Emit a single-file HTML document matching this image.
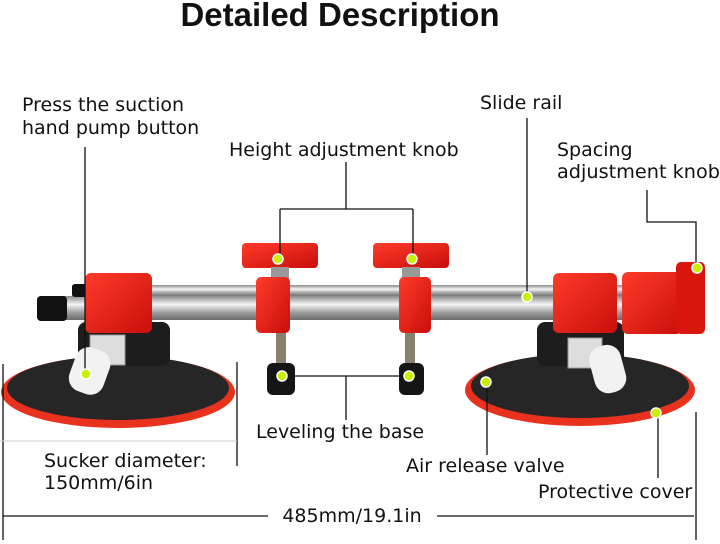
<!DOCTYPE html>
<html><head><meta charset="utf-8"><style>
html,body{margin:0;padding:0;background:#fff;width:720px;height:544px;overflow:hidden}
svg{display:block}
text{font-family:"DejaVu Sans","Liberation Sans",sans-serif;fill:#111}
</style></head><body>
<svg width="720" height="544" viewBox="0 0 720 544" xmlns="http://www.w3.org/2000/svg">
<defs>
<linearGradient id="rod" x1="0" y1="0" x2="0" y2="1"><stop offset="0" stop-color="#8a8a8a"/><stop offset="0.35" stop-color="#f4f4f4"/><stop offset="0.7" stop-color="#9a9a9a"/><stop offset="1" stop-color="#6a6a6a"/></linearGradient>
<linearGradient id="red" x1="0" y1="0" x2="1" y2="1"><stop offset="0" stop-color="#ff3b2a"/><stop offset="1" stop-color="#c80f0a"/></linearGradient>
</defs>
<text x="340" y="26" font-size="33" font-weight="bold" text-anchor="middle" style="font-family:'Liberation Sans',sans-serif">Detailed Description</text>

<ellipse cx="118" cy="392" rx="117" ry="36" fill="#e8321e"/>
<ellipse cx="118" cy="388" rx="111" ry="32" fill="#262626"/>
<ellipse cx="580" cy="390" rx="115" ry="36" fill="#e8321e"/>
<ellipse cx="580" cy="386" rx="109" ry="32" fill="#262626"/>
<rect x="78" y="322" width="92" height="44" rx="8" fill="#1d1d1d"/>
<rect x="537" y="322" width="87" height="44" rx="8" fill="#1d1d1d"/>
<rect x="72" y="285" width="592" height="12" fill="url(#rod)"/>
<rect x="40" y="296" width="624" height="24" fill="url(#rod)"/>
<rect x="72" y="284" width="18" height="13" rx="3" fill="#111"/>
<rect x="37" y="296" width="30" height="25" rx="4" fill="#111"/>
<rect x="85" y="273" width="67" height="60" rx="6" fill="url(#red)"/>
<rect x="553" y="273" width="64" height="60" rx="6" fill="url(#red)"/>
<rect x="622" y="272" width="60" height="62" rx="6" fill="url(#red)"/>
<rect x="676" y="262" width="29" height="72" rx="5" fill="#d8160d"/>
<rect x="90" y="335" width="35" height="30" fill="#ddd" stroke="#999"/>
<rect x="72" y="348" width="36" height="46" rx="14" fill="#f2f2f2" transform="rotate(20 90 370)"/>
<rect x="568" y="338" width="34" height="30" fill="#ddd" stroke="#999"/>
<rect x="592" y="345" width="32" height="48" rx="14" fill="#f2f2f2" transform="rotate(-15 608 370)"/>
<rect x="242" y="243" width="76" height="25" rx="4" fill="url(#red)"/>
<rect x="373" y="243" width="76" height="25" rx="4" fill="url(#red)"/>
<rect x="271" y="267" width="18" height="12" fill="#999"/>
<rect x="402" y="267" width="18" height="12" fill="#999"/>
<rect x="256" y="277" width="34" height="56" rx="5" fill="url(#red)"/>
<rect x="399" y="277" width="32" height="56" rx="5" fill="url(#red)"/>
<rect x="276" y="333" width="10" height="34" fill="#8a8070"/>
<rect x="405" y="333" width="10" height="34" fill="#8a8070"/>
<rect x="267" y="363" width="28" height="32" rx="6" fill="#151515"/>
<rect x="399" y="363" width="25" height="32" rx="6" fill="#151515"/>

<g stroke="#111" stroke-width="1.3" fill="none">
<path d="M85 147V373"/>
<path d="M346 162V209M280 209H413M280 209V260M413 209V260"/>
<path d="M527 118V297"/>
<path d="M647 190V222H696V266"/>
<path d="M283 376H410M346 376V420"/>
<path d="M3 364V540M237 362V466M696 412V540"/>
<path d="M487 383V455M658 413V478"/>
<path d="M3 516H268M437 516H694"/>
</g>
<path d="M0 441H237" stroke="#ccc" stroke-width="1"/>
<g fill="#c8f000" stroke="#fff" stroke-width="1.5">
<circle cx="86" cy="374" r="5"/><circle cx="278" cy="259" r="5"/><circle cx="412" cy="259" r="5"/>
<circle cx="527" cy="297" r="5"/><circle cx="697" cy="268" r="5"/>
<circle cx="282" cy="376" r="5"/><circle cx="409" cy="376" r="5"/>
<circle cx="486" cy="382" r="5"/><circle cx="656" cy="413" r="5"/>
</g>

<g font-size="19">
<text x="22" y="111">Press the suction</text>
<text x="22" y="134">hand pump button</text>
<text x="229" y="156">Height adjustment knob</text>
<text x="480" y="109">Slide rail</text>
<text x="557" y="156">Spacing</text>
<text x="557" y="178" textLength="163" lengthAdjust="spacingAndGlyphs">adjustment knob</text>
<text x="256" y="438">Leveling the base</text>
<text x="44" y="467">Sucker diameter:</text>
<text x="44" y="489">150mm/6in</text>
<text x="406" y="472">Air release valve</text>
<text x="538" y="498">Protective cover</text>
<text x="352" y="522" text-anchor="middle">485mm/19.1in</text>
</g>
</svg>
</body></html>
